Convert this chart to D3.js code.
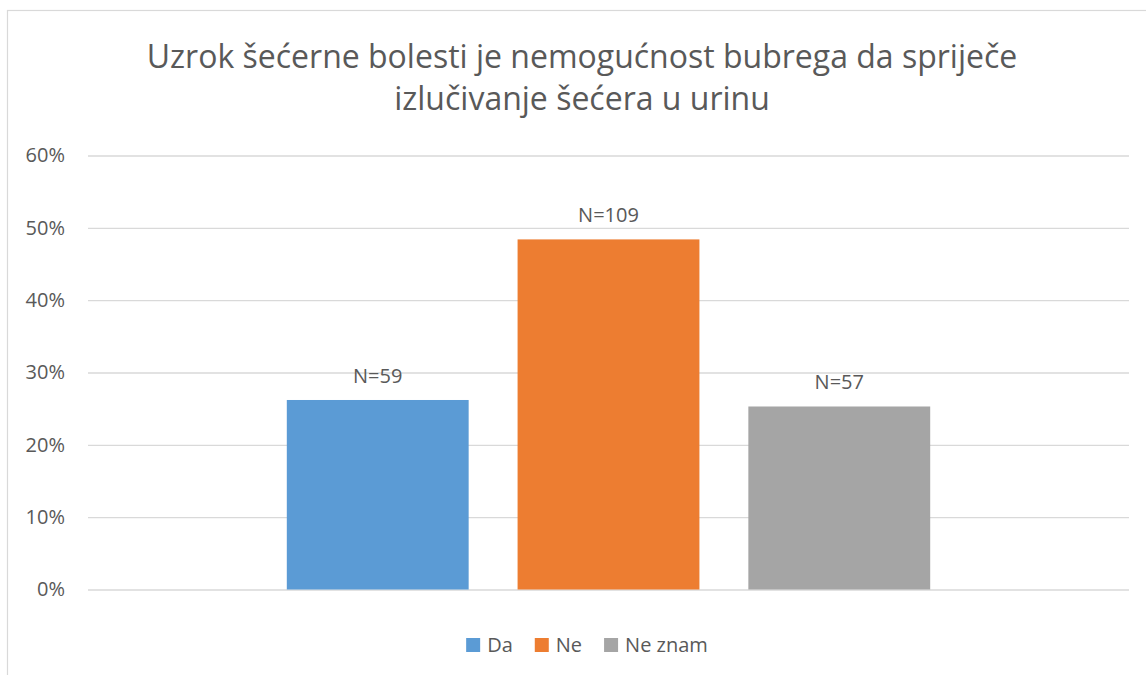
<!DOCTYPE html>
<html>
<head>
<meta charset="utf-8">
<script src="https://cdnjs.cloudflare.com/ajax/libs/d3/7.8.5/d3.min.js"></script>
<style>
  body { margin: 0; background: #fff; }
  svg { display: block; font-family: "Open Sans", sans-serif; }
</style>
</head>
<body>
<div id="chart"></div>
<script>
// data
var titleLines = ["Uzrok šećerne bolesti je nemogućnost bubrega da spriječe", "izlučivanje šećera u urinu"];
var category = [""];
var series = ["Da", "Ne", "Ne znam"];
var values = [26.2, 48.4, 25.3];   // percent
var counts = ["N=59", "N=109", "N=57"];
var yTicks = [0, 10, 20, 30, 40, 50, 60];

var colors = ["#5b9bd5", "#ed7d31", "#a5a5a5"];
var textColor = "#595959";
var gridColor = "#d9d9d9";

var width = 1146, height = 675;
var plot = { left: 88, right: 1129, top: 155.5, bottom: 589.5 };

var svg = d3.select("#chart").append("svg")
  .attr("width", width)
  .attr("height", height);

svg.append("rect")
  .attr("x", 7.5).attr("y", 10.5)
  .attr("width", 1150).attr("height", 700)
  .attr("fill", "#fff")
  .attr("stroke", gridColor)
  .attr("stroke-width", 1.2);

// title
svg.append("text")
  .attr("text-anchor", "middle")
  .attr("fill", textColor)
  .style("font-size", "32px")
  .selectAll("tspan")
  .data(titleLines)
  .enter()
  .append("tspan")
  .attr("x", 582)
  .attr("y", function (d, i) { return 68 + i * 42; })
  .text(function (d) { return d; });

var y = d3.scaleLinear()
  .domain([0, 60])
  .range([plot.bottom, plot.top]);

// one category, three clustered series
var x0 = d3.scaleBand()
  .domain(category)
  .range([plot.left, plot.right])
  .paddingOuter(0.309);

var x1 = d3.scaleBand()
  .domain(series)
  .range([0, x0.bandwidth()])
  .paddingInner(0.212);

// gridlines + tick labels
var yAxis = svg.append("g")
  .attr("transform", "translate(" + plot.left + ",0)")
  .call(d3.axisLeft(y)
    .tickValues(yTicks)
    .tickSize(-(plot.right - plot.left))
    .tickPadding(23)
    .tickFormat(function (d) { return d + "%"; }));

yAxis.select(".domain").remove();
yAxis.selectAll(".tick line")
  .attr("stroke", gridColor)
  .attr("stroke-width", 1.3);
yAxis.selectAll(".tick text")
  .attr("fill", textColor)
  .style("font-size", "20px")
  .style("font-family", "'Open Sans', sans-serif");

// bars
var bars = svg.append("g")
  .attr("transform", "translate(" + x0(category[0]) + ",0)");

bars.selectAll("rect")
  .data(values)
  .enter()
  .append("rect")
  .attr("x", function (d, i) { return x1(series[i]); })
  .attr("y", function (d) { return y(d); })
  .attr("width", x1.bandwidth())
  .attr("height", function (d) { return y(0) - y(d); })
  .attr("fill", function (d, i) { return colors[i]; });

bars.selectAll("text")
  .data(values)
  .enter()
  .append("text")
  .attr("x", function (d, i) { return x1(series[i]) + x1.bandwidth() / 2; })
  .attr("y", function (d) { return y(d) - 17; })
  .attr("text-anchor", "middle")
  .attr("fill", textColor)
  .style("font-size", "20px")
  .text(function (d, i) { return counts[i]; });

// legend, centered
var legend = svg.append("g");
var items = legend.selectAll("g")
  .data(series)
  .enter()
  .append("g");

items.append("rect")
  .attr("width", 14).attr("height", 14)
  .attr("y", -7)
  .attr("fill", function (d, i) { return colors[i]; });

items.append("text")
  .attr("x", 21)
  .attr("y", 7)
  .attr("fill", textColor)
  .style("font-size", "20px")
  .text(function (d) { return d; });

var lx = 0;
items.each(function () {
  var g = d3.select(this);
  g.attr("transform", "translate(" + lx + ",0)");
  lx += 21 + g.select("text").node().getComputedTextLength() + 22;
});
lx -= 22;
legend.attr("transform", "translate(" + (587 - lx / 2) + ",645)");
</script>
</body>
</html>
